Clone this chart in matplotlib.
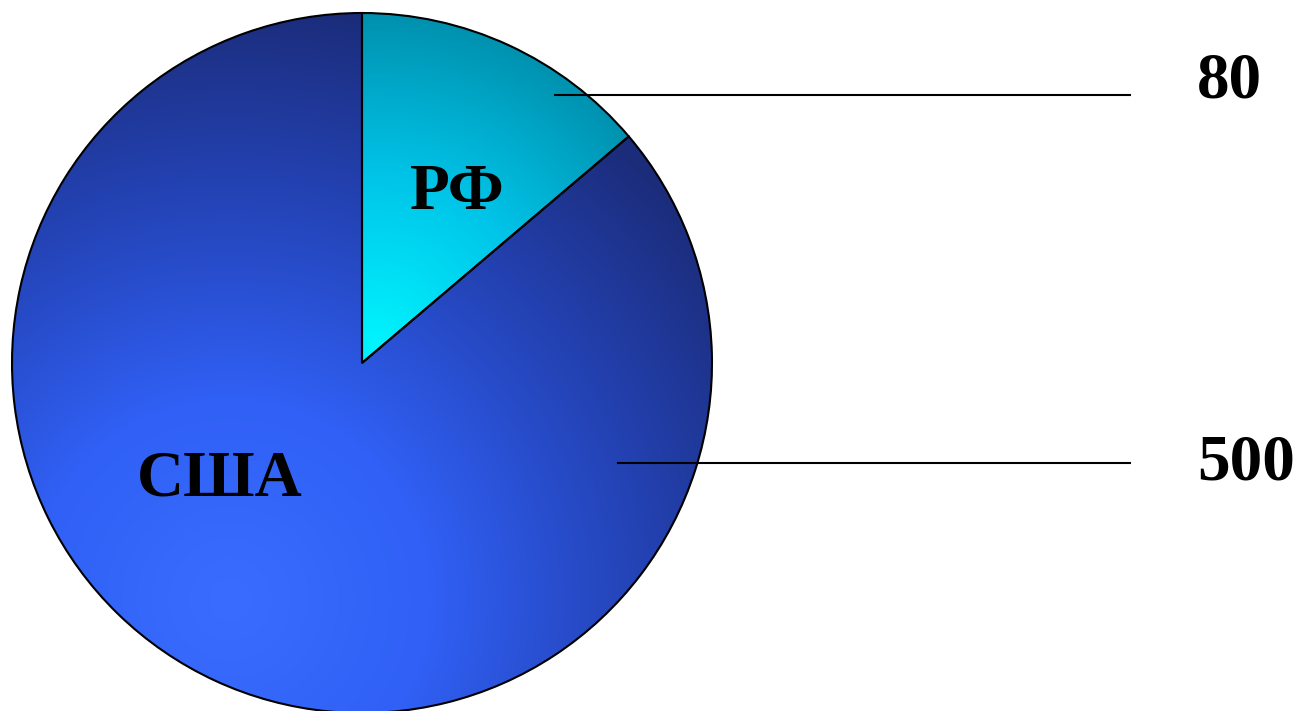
import numpy as np
import matplotlib.pyplot as plt
from matplotlib.colors import LinearSegmentedColormap

# Data
countries = ['РФ', 'США']
values = [80, 500]
value_labels = ['80', '500']

W, H = 1297, 711
fig = plt.figure(figsize=(W / 100, H / 100), dpi=100)
ax = fig.add_axes([0, 0, 1, 1])
ax.set_xlim(0, W)
ax.set_ylim(0, H)
ax.axis('off')

# pie geometry in pixel units (y measured from bottom)
cx, cy, r = 362, H - 363, 350

wedges, _ = ax.pie(values, startangle=90, counterclock=False,
                   center=(cx, cy), radius=r, frame=True,
                   wedgeprops=dict(edgecolor='black', linewidth=1.5, facecolor='none'))
ax.set_xlim(0, W)
ax.set_ylim(0, H)
ax.set_aspect('equal')
ax.axis('off')

# gradient fills clipped to each wedge
xs = np.linspace(cx - r, cx + r, 400)
ys = np.linspace(cy - r, cy + r, 400)
X, Y = np.meshgrid(xs, ys)
ext = [cx - r, cx + r, cy - r, cy + r]

cyan = LinearSegmentedColormap.from_list('cyan', ['#00F4FF', '#00C4E8', '#008EAC'])
blue = LinearSegmentedColormap.from_list('blue', ['#3A6DFF', '#3060F5', '#2444B8', '#1B2C7A'])

t_rf = np.clip(np.hypot(X - 375, Y - (H - 345)) / 340, 0, 1)
t_us = np.clip(np.hypot(X - 230, Y - (H - 600)) / 600, 0, 1)

for wedge, t, cmap in [(wedges[0], t_rf, cyan), (wedges[1], t_us, blue)]:
    im = ax.imshow(t, cmap=cmap, extent=ext, origin='lower', vmin=0, vmax=1,
                   zorder=0.5, interpolation='bilinear')
    im.set_clip_path(wedge)
for w in wedges:
    w.set_zorder(1)

font = dict(family='Liberation Serif', weight='bold', fontsize=47, color='black')

# slice names
ax.text(457, H - 193, countries[0], ha='center', va='center', **font)
ax.text(220, H - 480, countries[1], ha='center', va='center', **font)

# leader lines with values
leaders = [(555, 95, 81), (618, 463, 464)]
for (x0, yl, yt), lab in zip(leaders, value_labels):
    ax.plot([x0, 1130], [H - yl, H - yl], color='black', linewidth=1.5, zorder=2)
    ax.text(1197, H - yt, lab, ha='left', va='center', **font)

fig.savefig('out.png', dpi=100)
